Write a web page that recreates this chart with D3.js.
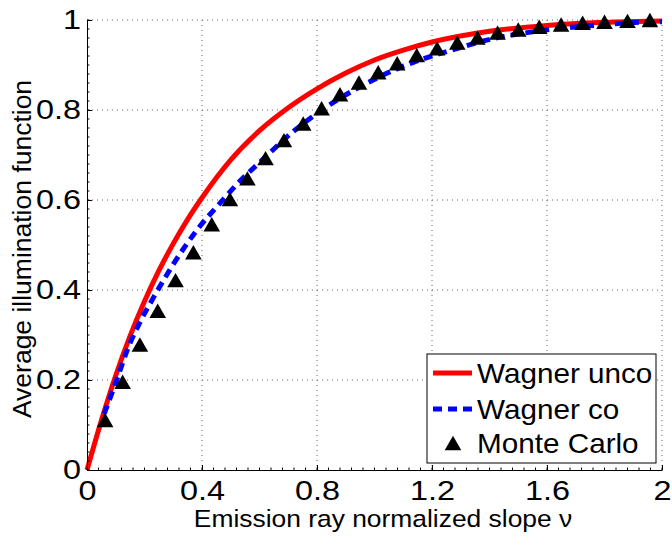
<!DOCTYPE html>
<html>
<head>
<meta charset="utf-8">
<script src="https://cdn.jsdelivr.net/npm/d3@7"></script>
<style>
  body { margin: 0; background: #fff; }
  text { font-family: "Liberation Sans", Arial, sans-serif; fill: #000; }
</style>
</head>
<body>
<div id="canvas"></div>
<script>
// values
const xTicks = [0, 0.4, 0.8, 1.2, 1.6, 2];
const yTicks = [0, 0.2, 0.4, 0.6, 0.8, 1];
const xTickLabels = ["0", "0.4", "0.8", "1.2", "1.6", "2"];
const yTickLabels = ["0", "0.2", "0.4", "0.6", "0.8", "1"];

const uncoX = [0, 0.05, 0.1, 0.15, 0.2, 0.25, 0.3, 0.35, 0.4, 0.5, 0.6, 0.7, 0.8, 0.9, 1.0, 1.1, 1.2, 1.4, 1.6, 1.8, 2];
const uncoY = [0, 0.11, 0.21, 0.298, 0.375, 0.443, 0.503, 0.557, 0.605, 0.689, 0.754, 0.805, 0.847, 0.882, 0.911, 0.933, 0.951, 0.975, 0.988, 0.995, 0.998];

const coX = [0.06, 0.107, 0.142, 0.188, 0.24, 0.298, 0.387, 0.457, 0.532, 0.608, 0.723, 0.857, 0.99, 1.135, 1.263, 1.402, 1.576, 1.784, 1.981, 2];
const coY = [0.125, 0.207, 0.27, 0.333, 0.393, 0.455, 0.537, 0.589, 0.642, 0.688, 0.755, 0.817, 0.865, 0.906, 0.932, 0.957, 0.976, 0.989, 0.996, 0.996];

const mcX = [0.063, 0.124, 0.184, 0.246, 0.308, 0.37, 0.434, 0.497, 0.558, 0.621, 0.685, 0.752, 0.816, 0.88, 0.946, 1.013, 1.079, 1.147, 1.218, 1.288, 1.358, 1.428, 1.5, 1.573, 1.649, 1.724, 1.80, 1.88, 1.958];
const mcY = [0.111, 0.196, 0.279, 0.354, 0.422, 0.484, 0.546, 0.602, 0.648, 0.693, 0.733, 0.770, 0.804, 0.835, 0.861, 0.884, 0.904, 0.922, 0.937, 0.95, 0.961, 0.972, 0.979, 0.985, 0.99, 0.994, 0.996, 0.998, 1.0];

const seriesNames = ["Wagner unco", "Wagner co", "Monte Carlo"];

const dims = { width: 672, height: 536 };
const plot = { left: 87, right: 662, top: 20, bottom: 470 };

const svg = d3
  .select("#canvas")
  .append("svg")
  .attr("width", dims.width)
  .attr("height", dims.height)
  .style("background-color", "#fff");

const xScale = d3.scaleLinear().domain([0, 2]).range([plot.left, plot.right]);
const yScale = d3.scaleLinear().domain([0, 1]).range([plot.bottom, plot.top]);

// dotted grid
const grid = svg.append("g");
grid
  .selectAll("line.vx")
  .data(xTicks.slice(1))
  .enter()
  .append("line")
  .attr("x1", d => xScale(d))
  .attr("x2", d => xScale(d))
  .attr("y1", plot.top)
  .attr("y2", plot.bottom)
  .attr("stroke", "#666")
  .attr("stroke-dasharray", "1,4");
grid
  .selectAll("line.hy")
  .data(yTicks.slice(1))
  .enter()
  .append("line")
  .attr("x1", plot.left)
  .attr("x2", plot.right)
  .attr("y1", d => yScale(d))
  .attr("y2", d => yScale(d))
  .attr("stroke", "#666")
  .attr("stroke-dasharray", "1,4");

// curves
const lineGen = d3
  .line()
  .x(d => xScale(d[0]))
  .y(d => yScale(d[1]))
  .curve(d3.curveMonotoneX);

svg
  .append("path")
  .attr("d", lineGen(d3.zip(uncoX, uncoY)))
  .attr("fill", "none")
  .attr("stroke", "#ff0000")
  .attr("stroke-width", 5);

svg
  .append("path")
  .attr("d", lineGen(d3.zip(coX, coY)))
  .attr("fill", "none")
  .attr("stroke", "#0000ff")
  .attr("stroke-width", 5)
  .attr("stroke-dasharray", "9,6");

// triangles
const tri = "M0,-7.2L8.3,7.2L-8.3,7.2Z";
svg
  .append("g")
  .selectAll("path")
  .data(d3.zip(mcX, mcY))
  .enter()
  .append("path")
  .attr("d", tri)
  .attr("transform", d => `translate(${xScale(d[0])},${yScale(d[1])})`)
  .attr("fill", "#000");

// axes
const xAxis = d3
  .axisBottom(xScale)
  .tickValues(xTicks)
  .tickFormat((d, i) => xTickLabels[i])
  .tickSizeInner(-5)
  .tickSizeOuter(0)
  .tickPadding(11);
const yAxis = d3
  .axisLeft(yScale)
  .tickValues(yTicks)
  .tickFormat((d, i) => yTickLabels[i])
  .tickSizeInner(-5)
  .tickSizeOuter(0)
  .tickPadding(5);

const xAxisGroup = svg
  .append("g")
  .attr("transform", `translate(0,${plot.bottom})`)
  .call(xAxis);
const yAxisGroup = svg
  .append("g")
  .attr("transform", `translate(${plot.left},0)`)
  .call(yAxis);

[xAxisGroup, yAxisGroup].forEach(g => {
  g.select(".domain").attr("stroke", "#000");
  g.selectAll(".tick line").attr("stroke", "#000");
  g.selectAll("text")
    .attr("font-size", 27)
    .attr("font-family", "Liberation Sans, Arial, sans-serif")
    .attr("fill", "#000")
    .attr("transform", "scale(1.2,1)"); // reference glyphs are wider
});

// minor ticks
const xMinor = d3.range(0, 2.0001, 0.04);
const yMinor = d3.range(0, 1.0001, 0.02);
svg
  .append("g")
  .selectAll("line")
  .data(xMinor)
  .enter()
  .append("line")
  .attr("x1", d => xScale(d))
  .attr("x2", d => xScale(d))
  .attr("y1", plot.bottom)
  .attr("y2", plot.bottom - 2.5)
  .attr("stroke", "#000");
svg
  .append("g")
  .selectAll("line")
  .data(yMinor)
  .enter()
  .append("line")
  .attr("x1", plot.left)
  .attr("x2", plot.left + 2.5)
  .attr("y1", d => yScale(d))
  .attr("y2", d => yScale(d))
  .attr("stroke", "#000");

// axis labels
svg
  .append("text")
  .attr("transform", "translate(383,527) scale(1.1,1)")
  .attr("text-anchor", "middle")
  .attr("font-size", 24)
  .text("Emission ray normalized slope ν");

svg
  .append("text")
  .attr("transform", "translate(31,249) rotate(-90) scale(1.06,1)")
  .attr("text-anchor", "middle")
  .attr("font-size", 25)
  .text("Average illumination function");

// legend
const legendGroup = svg.append("g").attr("transform", "translate(427,354)");
legendGroup
  .append("rect")
  .attr("width", 229)
  .attr("height", 109)
  .attr("fill", "#fff")
  .attr("stroke", "#000");

const rowY = [19, 55, 89];
legendGroup
  .append("line")
  .attr("x1", 6).attr("x2", 45)
  .attr("y1", rowY[0]).attr("y2", rowY[0])
  .attr("stroke", "#ff0000")
  .attr("stroke-width", 5);
legendGroup
  .append("line")
  .attr("x1", 6).attr("x2", 45)
  .attr("y1", rowY[1]).attr("y2", rowY[1])
  .attr("stroke", "#0000ff")
  .attr("stroke-width", 5)
  .attr("stroke-dasharray", "9,6");
legendGroup
  .append("path")
  .attr("d", tri)
  .attr("transform", `translate(26,${rowY[2]})`)
  .attr("fill", "#000");

legendGroup
  .selectAll("text")
  .data(seriesNames)
  .enter()
  .append("text")
  .attr("transform", (d, i) => `translate(50,${rowY[i] + 10}) scale(1.06,1)`)
  .attr("font-size", 28)
  .text(d => d);
</script>
</body>
</html>
